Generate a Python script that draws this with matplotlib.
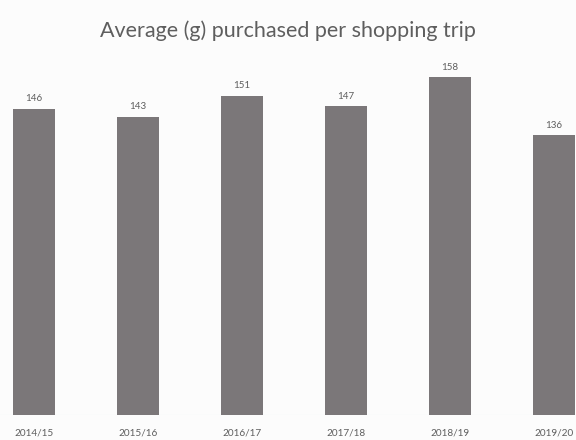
import matplotlib
matplotlib.use("Agg")
import matplotlib.pyplot as plt

# Average grams purchased per shopping trip, by financial year
years = ["2014/15", "2015/16", "2016/17", "2017/18", "2018/19", "2019/20"]
grams = [146, 143, 151, 147, 158, 136]

bar_color = "#7b7779"
text_color = "#5e5e5e"
bg = "#fcfcfc"

plt.rcParams["font.family"] = ["Lato", "DejaVu Sans"]

fig = plt.figure(figsize=(5.76, 4.4), dpi=100, facecolor=bg)
ax = fig.add_axes([0, 25 / 440, 1, (415 - 60) / 440], facecolor=bg)

x = list(range(len(years)))
bars = ax.bar(x, grams, width=0.41, color=bar_color, bottom=0)

ax.set_xlim(-0.327, 5.21)
ax.set_ylim(30, 30 + (415 - 60) / 2.64)

for xi, v in zip(x, grams):
    ax.annotate(str(v), (xi, v), xytext=(0, 4), textcoords="offset points",
                ha="center", va="bottom", fontsize=7, color=text_color)

ax.set_xticks(x)
ax.set_xticklabels(years, fontsize=7.2, color=text_color)
ax.tick_params(axis="x", length=0, pad=10)
ax.set_yticks([])
for s in ax.spines.values():
    s.set_visible(False)
ax.axhline(30, color="#e6ecf2", lw=0.8, zorder=0)

fig.text(0.5, 1 - 31 / 440, "Average (g) purchased per shopping trip",
         ha="center", va="center", fontsize=15.5, color=text_color)

fig.savefig("out.png", dpi=100, facecolor=bg)
